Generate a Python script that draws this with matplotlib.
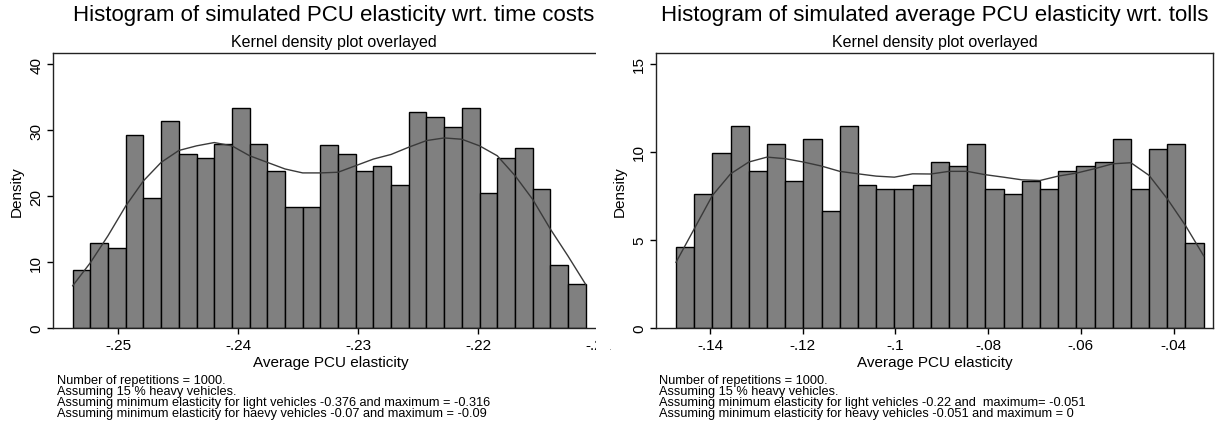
import numpy as np
import matplotlib
matplotlib.use("Agg")
import matplotlib.pyplot as plt
from matplotlib.patches import Rectangle

plt.rcParams['font.family'] = ['Liberation Sans', 'DejaVu Sans']

W, H = 1221, 435

# --- left panel: elasticity wrt. time costs ---
time_bin_start = -0.253778
time_bin_end = -0.211028
time_density = [8.8, 12.9, 12.1, 29.2, 19.7, 31.3, 26.4, 25.8, 27.9, 33.3,
                27.9, 23.8, 18.3, 18.3, 27.8, 26.4, 23.8, 24.5, 21.7, 32.7,
                31.9, 30.5, 33.3, 20.4, 25.8, 27.2, 21.0, 9.5, 6.7]
# kernel density read at the bin edges
time_kde = [6.4, 9.9, 14.0, 18.5, 22.3, 25.1, 26.9, 27.6, 28.1, 27.6,
            26.1, 25.1, 24.1, 23.5, 23.5, 23.6, 24.6, 25.6, 26.3, 27.4,
            28.4, 28.8, 28.6, 27.6, 26.1, 23.1, 19.5, 15.0, 10.9, 6.6]
time_xticks = [-0.25, -0.24, -0.23, -0.22, -0.21]
time_xlabels = ['-.25', '-.24', '-.23', '-.22', '-.21']
time_yticks = [0, 10, 20, 30, 40]

# --- right panel: elasticity wrt. tolls ---
toll_bin_start = -0.147335
toll_bin_end = -0.033489
toll_density = [4.58, 7.62, 9.94, 11.46, 8.9, 10.44, 8.38, 10.72, 6.62, 11.46,
                8.14, 7.87, 7.87, 8.14, 9.43, 9.18, 10.44, 7.89, 7.62, 8.38,
                7.89, 8.92, 9.18, 9.43, 10.72, 7.89, 10.19, 10.44, 4.85]
toll_kde = [3.73, 5.63, 7.53, 8.76, 9.43, 9.71, 9.62, 9.43, 9.2, 8.9,
            8.76, 8.63, 8.57, 8.76, 8.75, 8.9, 8.9, 8.71, 8.57, 8.42,
            8.38, 8.63, 8.8, 9.05, 9.33, 9.39, 8.67, 7.34, 5.82, 4.1]
toll_xticks = [-0.14, -0.12, -0.10, -0.08, -0.06, -0.04]
toll_xlabels = ['-.14', '-.12', '-.1', '-.08', '-.06', '-.04']
toll_yticks = [0, 5, 10, 15]

titles = ["Histogram of simulated PCU elasticity wrt. time costs",
          "Histogram of simulated average PCU elasticity wrt. tolls"]
subtitle = "Kernel density plot overlayed"
xlabel = "Average PCU elasticity"
notes = [
    ["Number of repetitions = 1000.", "Assuming 15 % heavy vehicles.",
     "Assuming minimum elasticity for light vehicles -0.376 and maximum = -0.316",
     "Assuming minimum elasticity for haevy vehicles -0.07 and maximum = -0.09"],
    ["Number of repetitions = 1000.", "Assuming 15 % heavy vehicles.",
     "Assuming minimum elasticity for light vehicles -0.22 and  maximum= -0.051",
     "Assuming minimum elasticity for heavy vehicles -0.051 and maximum = 0"],
]


def px_box(x0, x1, ytop, ybot):
    return [x0 / W, 1 - ybot / H, (x1 - x0) / W, (ybot - ytop) / H]


fig = plt.figure(figsize=(W / 100, H / 100), dpi=100)
fig.patch.set_facecolor('white')

ax1 = fig.add_axes(px_box(53, 608, 54, 329))
ax2 = fig.add_axes(px_box(656, 1213, 54, 329))

panels = [
    (ax1, time_bin_start, time_bin_end, time_density, time_kde, time_xticks,
     time_xlabels, time_yticks, (-0.25542, -0.20917), (0, 41.67)),
    (ax2, toll_bin_start, toll_bin_end, toll_density, toll_kde, toll_xticks,
     toll_xlabels, toll_yticks, (-0.15165, -0.03148), (0, 15.625)),
]

for ax, b0, b1, dens, kde, xt, xl, yt, xlim, ylim in panels:
    edges = np.linspace(b0, b1, len(dens) + 1)
    ax.bar(edges[:-1], dens, width=np.diff(edges), align='edge',
           color='#808080', edgecolor='black', linewidth=1.0)
    ax.plot(edges, kde, color='#3a3a3a', linewidth=1.0)
    ax.set_xlim(*xlim)
    ax.set_ylim(*ylim)
    ax.set_xticks(xt)
    ax.set_xticklabels(xl)
    ax.set_yticks(yt)
    ax.set_yticklabels([str(v) for v in yt], rotation=90, va='center')
    ax.tick_params(direction='out', length=4, width=1, labelsize=11,
                   colors='black', pad=3)
    ax.set_ylabel("Density", fontsize=11, labelpad=4)
    ax.set_xlabel(xlabel, fontsize=11, labelpad=2)
    for s in ax.spines.values():
        s.set_color('#222222')
        s.set_linewidth(1.0)

# left graph is cut off on its right side in the original
ax1.spines['right'].set_visible(False)

centers = [334, 935]
note_x = [57, 659]
note_y = [381, 392, 403, 414]
for i in range(2):
    fig.text(centers[i] / W, 1 - 15 / H, titles[i], ha='center', va='center',
             fontsize=16)
    fig.text(centers[i] / W, 1 - 42 / H, subtitle, ha='center', va='center',
             fontsize=11.5)
    for line, y in zip(notes[i], note_y):
        fig.text(note_x[i] / W, 1 - y / H, line, ha='left', va='center',
                 fontsize=9.2)

fig.patches.append(Rectangle((596 / W, 1 - 358 / H), 14 / W, 310 / H,
                             transform=fig.transFigure, facecolor='white',
                             edgecolor='none', zorder=10))

fig.savefig("out.png", dpi=100)
